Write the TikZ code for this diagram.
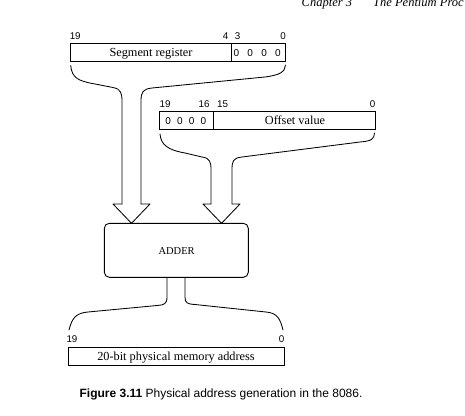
\documentclass[tikz,border=0pt]{standalone}
\usepackage{fontspec}
\setmainfont{Liberation Serif}
\setsansfont{Liberation Sans}
\begin{document}
\begin{tikzpicture}[x=1pt,y=-1pt,
  box/.style={draw, line width=0.9pt, inner sep=0pt},
  divider/.style={line width=1.4pt},
  bitlbl/.style={font=\sffamily\fontsize{9.8}{11}\selectfont, inner sep=0pt, anchor=base},
  zero/.style={font=\sffamily\fontsize{10}{11}\selectfont, inner sep=0pt, anchor=base},
  txt/.style={font=\fontsize{12.3}{14}\selectfont, inner sep=0pt, anchor=base},
  wire/.style={line width=0.85pt, line join=round, line cap=round}]
\clip (0,0) rectangle (465,415);
\fill[white] (0,0) rectangle (465,415);

% header
\node[font=\itshape\fontsize{12.5}{14}\selectfont, inner sep=0pt, anchor=base west] (hdrA) at (301.5,6) {Chapter 3};
\node[font=\itshape\fontsize{12.5}{14}\selectfont, inner sep=0pt, anchor=base west] (hdrB) at (373,6) {The Pentium Proc};

% segment register
\node[box, minimum width=215pt, minimum height=17.7pt] (seg) at (178.2,52.2) {};
\draw[divider] (231.7,43.3) -- (231.7,61);
\node[txt] (segtxt) at (151,56.4) {Segment register};
\foreach \x/\n in {236.3/a,250.2/b,264.1/c,278/d}
  \node[zero] (segz\n) at (\x,56) {0};
\node[bitlbl] (s19) at (75.2,39.5) {19};
\node[bitlbl] (s4) at (225.5,39.5) {4};
\node[bitlbl] (s3) at (237.5,39.5) {3};
\node[bitlbl] (s0) at (283,39.5) {0};

% offset value
\node[box, minimum width=216.4pt, minimum height=17.3pt] (off) at (267.5,120.35) {};
\draw[divider] (213.3,111.7) -- (213.3,129);
\node[txt] (offtxt) at (295,124.5) {Offset value};
\foreach \x/\n in {168.1/a,179.9/b,191.7/c,203.5/d}
  \node[zero] (offz\n) at (\x,124.1) {0};
\node[bitlbl] (o19) at (165,107) {19};
\node[bitlbl] (o16) at (204,107) {16};
\node[bitlbl] (o15) at (222.5,107) {15};
\node[bitlbl] (o0) at (372.5,107) {0};

% adder
\node[box, rounded corners=5pt, minimum width=144pt, minimum height=54pt] (adder) at (176.3,250.3) {};
\node[font=\fontsize{10.5}{12}\selectfont, inner sep=0pt, anchor=base] (addtxt) at (176.6,254.3) {ADDER};

% physical address
\node[box, minimum width=215.7pt, minimum height=17.7pt] (phys) at (176.15,356.2) {};
\node[txt] (phystxt) at (176,360.3) {20-bit physical memory address};
\node[bitlbl] (p19) at (72,342.5) {19};
\node[bitlbl] (p0) at (281.7,342.5) {0};

% coordinates for the wide arrows
\coordinate (sl) at (122,204);
\coordinate (sr) at (141,204);
\coordinate (stip) at (131.5,223.3);
\coordinate (ol) at (211,204);
\coordinate (or) at (232,204);
\coordinate (otip) at (221.5,223.3);

% segment register -> adder
\draw[wire] (70.7,65.5) .. controls (72,78) and (78,81) .. (95,84) -- (113,87.5)
  .. controls (121,89) and (122,93) .. (122,102) -- (sl);
\draw[wire] (285.5,65) .. controls (285,72) and (280,75) .. (265,77) -- (152,88)
  .. controls (143,89) and (141,92) .. (141,101) -- (sr);
\draw[wire] (sl) -- (113,204) -- (stip) -- (150,204) -- (sr);

% offset value -> adder
\draw[wire] (160,134) .. controls (161,145) and (168,150) .. (185,153) -- (202,157)
  .. controls (210,158) and (211,162) .. (211,170) -- (ol);
\draw[wire] (374.5,133) .. controls (374,139) and (372,141) .. (360,142) -- (242,157)
  .. controls (233,158) and (232,161) .. (232,170) -- (or);
\draw[wire] (ol) -- (203,204) -- (otip) -- (240,204) -- (or);

% adder -> physical address
\draw[wire] (167,277.3) -- (167,297) .. controls (167,304) and (164,305) .. (157,305.5)
  -- (88,312) .. controls (76,313) and (72,318) .. (69,330);
\draw[wire] (185,277.3) -- (185,297) .. controls (185,303) and (187,304) .. (195,304.5)
  -- (266,312) .. controls (277,313) and (280,318) .. (283,330);

% caption
\node[font=\sffamily\fontsize{12}{14}\selectfont, inner sep=0pt, anchor=base] (cap) at (221,397)
  {\textbf{Figure 3.11} Physical address generation in the 8086.};
\end{tikzpicture}
\end{document}
